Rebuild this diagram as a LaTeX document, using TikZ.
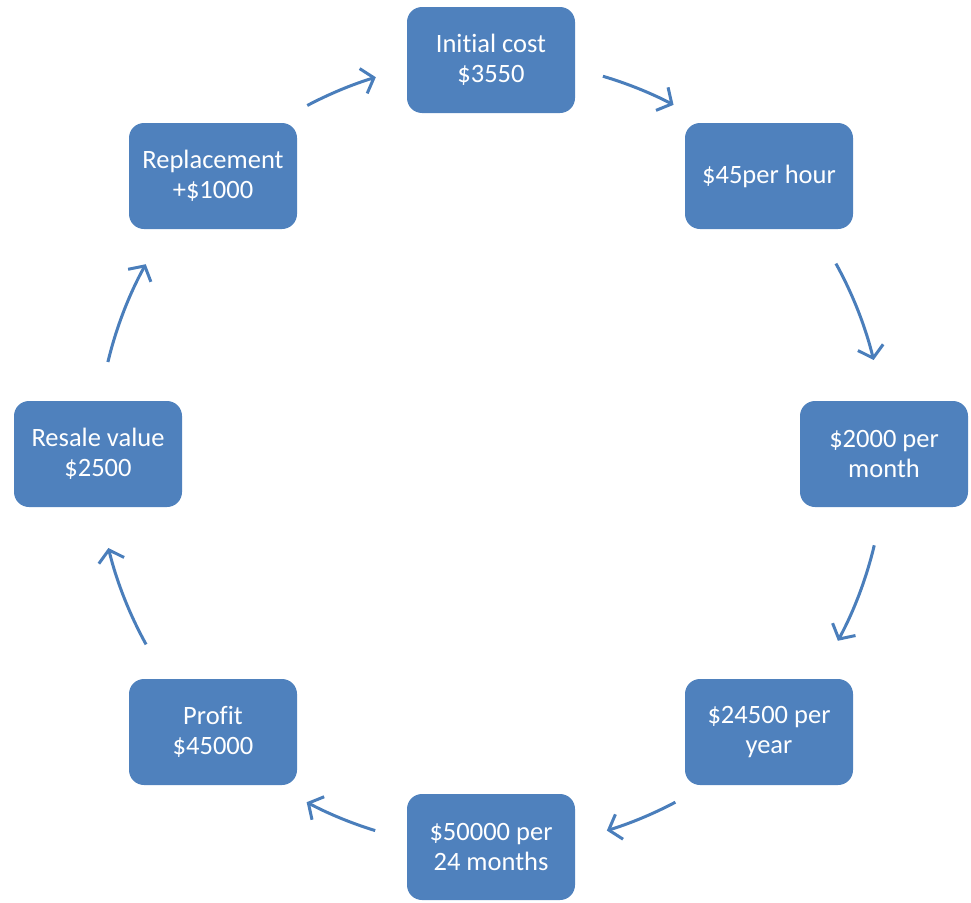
\documentclass[tikz,border=0pt]{standalone}
\usepackage{fontspec}
\setmainfont[Ligatures=NoCommon]{Carlito}
\usetikzlibrary{arrows.meta,calc}
\definecolor{boxblue}{HTML}{4F81BD}
\definecolor{arrowblue}{HTML}{4A7EBB}
\begin{document}
\begin{tikzpicture}[x=1pt,y=-1pt,
  stepbox/.style={fill=boxblue,draw=none,rounded corners=15pt,minimum width=168pt,minimum height=106pt,
    text=white,align=center,font=\fontsize{26.5}{30}\selectfont,inner sep=0pt},
  cyc/.style={draw=arrowblue,line width=3pt,-{Straight Barb[length=11pt,width=26pt]}}]
\useasboundingbox (0,0) rectangle (971,902);
\coordinate (c) at (491,454);
\node[stepbox] (n1) at (491,60) {Initial cost\\\$3550};
\node[stepbox] (n2) at (769,176) {\$45per hour};
\node[stepbox] (n3) at (884,454) {\$2000 per\\month};
\node[stepbox] (n4) at (769,732) {\$24500 per\\year};
\node[stepbox] (n5) at (491,847) {\$50000 per\\24 months};
\node[stepbox] (n6) at (213,732) {Profit\\\$45000};
\node[stepbox] (n7) at (98,454) {Resale value\\\$2500};
\node[stepbox] (n8) at (213,176) {Replacement\\+\$1000};
\def\R{394}
\foreach \i/\a/\b in {1/73.5/62.4, 2/28.9/13.8, 3/-13.4/-28.3, 4/-62.1/-72.9, 5/-107.1/-117.9, 6/-151.1/-166.2, 7/166.5/151.2, 8/117.8/107}{
  \coordinate (s\i) at ($(c)+({\R*cos(\a)},{-\R*sin(\a)})$);
  \draw[cyc] (s\i) arc[start angle=-\a, end angle=-\b, radius=\R];
}
\end{tikzpicture}
\end{document}
